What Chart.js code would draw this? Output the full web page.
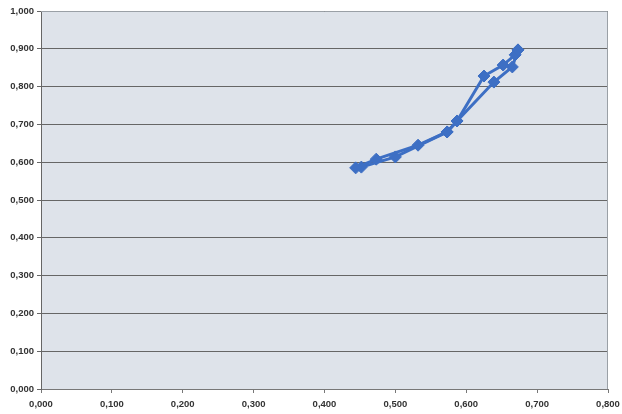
<!DOCTYPE html>
<html>
<head>
<meta charset="utf-8">
<script src="https://cdn.jsdelivr.net/npm/chart.js@4/dist/chart.umd.min.js"></script>
<style>
  html, body { margin: 0; padding: 0; background: #ffffff; }
  #wrap { width: 622px; height: 414px; }
</style>
</head>
<body>
<div id="wrap"><canvas id="c" width="622" height="414"></canvas></div>
<script>
// Measured pairs, two passes over the same range
const seriesAX = [0.444, 0.473, 0.532, 0.573, 0.587, 0.625, 0.652, 0.669, 0.673];
const seriesAY = [0.585, 0.608, 0.645, 0.680, 0.709, 0.828, 0.857, 0.884, 0.897];
const seriesBX = [0.452, 0.500, 0.573, 0.587, 0.639, 0.665, 0.673];
const seriesBY = [0.587, 0.614, 0.680, 0.709, 0.812, 0.852, 0.897];

const xMin = 0, xMax = 0.8, xStep = 0.1;
const yMin = 0, yMax = 1.0, yStep = 0.1;

const fmt = v => Number(v).toFixed(3).replace('.', ',');
const pts = (xs, ys) => xs.map((x, i) => ({ x: x, y: ys[i] }));

const lineColor = '#3d6fc4';

const plotBg = {
  id: 'plotBg',
  beforeDraw(chart) {
    const { ctx, chartArea: a } = chart;
    ctx.save();
    ctx.fillStyle = '#dee3ea';
    ctx.fillRect(a.left, a.top, a.right - a.left, a.bottom - a.top);
    ctx.restore();
  },
  afterDatasetsDraw(chart) {
    const { ctx, chartArea: a } = chart;
    ctx.save();
    ctx.strokeStyle = '#9aa0a6';
    ctx.lineWidth = 1;
    ctx.beginPath();
    ctx.moveTo(a.left, a.top + 0.5);
    ctx.lineTo(a.right - 0.5, a.top + 0.5);
    ctx.lineTo(a.right - 0.5, a.bottom);
    ctx.stroke();
    ctx.restore();
  }
};

const ds = (data) => ({
  data: data,
  showLine: true,
  borderColor: lineColor,
  backgroundColor: lineColor,
  borderWidth: 3,
  pointStyle: 'rectRot',
  pointRadius: 6,
  pointBorderWidth: 1,
  tension: 0
});

new Chart(document.getElementById('c'), {
  type: 'scatter',
  data: {
    datasets: [ds(pts(seriesAX, seriesAY)), ds(pts(seriesBX, seriesBY))]
  },
  options: {
    responsive: false,
    animation: false,
    devicePixelRatio: 1,
    layout: { padding: { top: 11, right: 14, left: 0, bottom: 0 } },
    plugins: { legend: { display: false }, tooltip: { enabled: false } },
    scales: {
      x: {
        type: 'linear',
        min: xMin, max: xMax,
        ticks: {
          stepSize: xStep,
          callback: v => fmt(v),
          color: '#333',
          font: { family: 'Liberation Sans', size: 9.5, weight: 'bold' },
          padding: 6,
          maxRotation: 0
        },
        grid: { drawOnChartArea: false, drawTicks: true, tickLength: 4, color: '#777' },
        border: { color: '#777', width: 1 },
        afterFit(s) { s.height = 25; s.paddingRight = 0; }
      },
      y: {
        type: 'linear',
        min: yMin, max: yMax,
        ticks: {
          stepSize: yStep,
          callback: v => fmt(v),
          color: '#333',
          font: { family: 'Liberation Sans', size: 9.5, weight: 'bold' },
          padding: 3
        },
        grid: { color: '#666', lineWidth: 1, drawTicks: true, tickLength: 4 },
        border: { color: '#666', width: 1 },
        afterFit(s) { s.width = 41; s.paddingTop = 0; }
      }
    }
  },
  plugins: [plotBg]
});
</script>
</body>
</html>
